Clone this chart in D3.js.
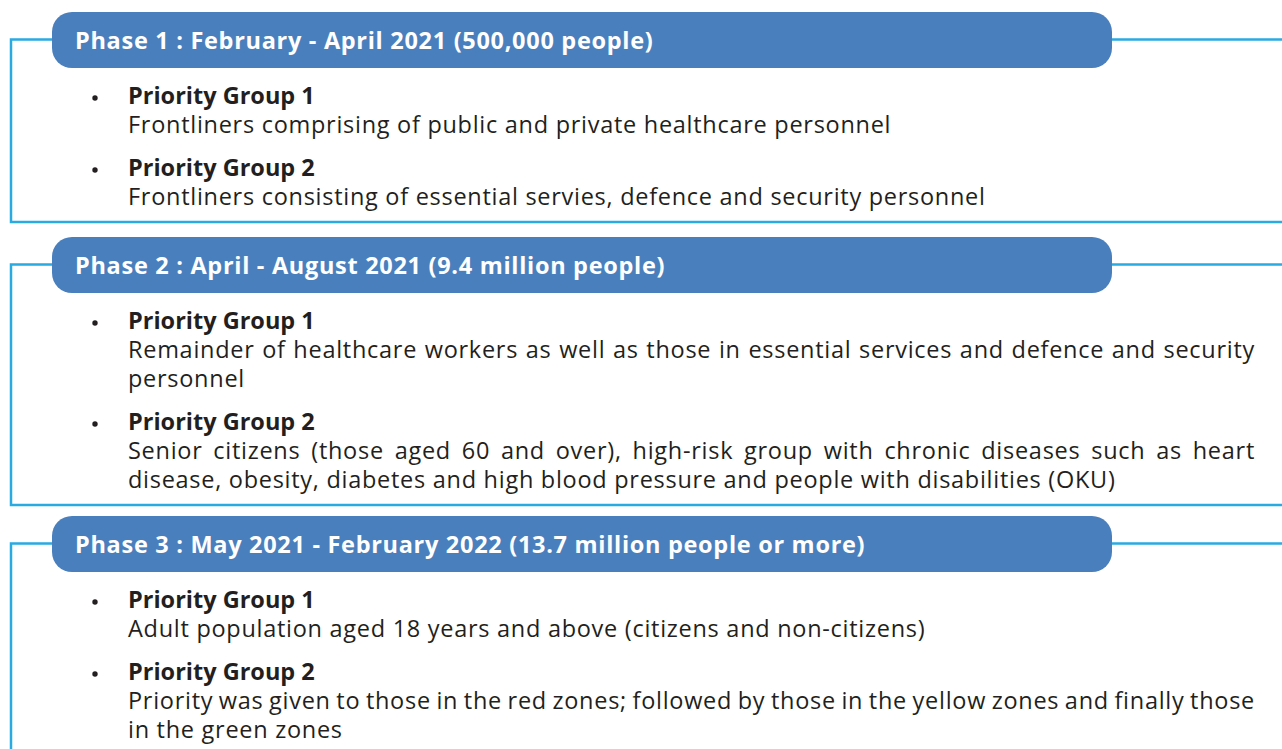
<!DOCTYPE html>
<html>
<head>
<meta charset="utf-8">
<script src="https://cdn.jsdelivr.net/npm/d3@7"></script>
<style>
  html, body { margin: 0; padding: 0; background: #fff; }
  svg { display: block; }
  text { font-family: "Open Sans", Lato, sans-serif; }
</style>
</head>
<body>
<svg id="viz"></svg>
<script>
const width = 1282;
const height = 749;

// phase headers
const phaseTitles = [
    "Phase 1 : February - April 2021 (500,000 people)",
    "Phase 2 : April - August 2021 (9.4 million people)",
    "Phase 3 : May 2021 - February 2022 (13.7 million people or more)"
];
// top of each header pill
const phaseTops = [12, 237, 516];

const groupLabels = ["Priority Group 1", "Priority Group 2"];

// description lines for each phase, group by group
const phase1Groups = [
    ["Frontliners comprising of public and private healthcare personnel"],
    ["Frontliners consisting of essential servies, defence and security personnel"]
];
const phase2Groups = [
    ["Remainder of healthcare workers as well as those in essential services and defence and security",
     "personnel"],
    ["Senior citizens (those aged 60 and over), high-risk group with chronic diseases such as heart",
     "disease, obesity, diabetes and high blood pressure and people with disabilities (OKU)"]
];
const phase3Groups = [
    ["Adult population aged 18 years and above (citizens and non-citizens)"],
    ["Priority was given to those in the red zones; followed by those in the yellow zones and finally those",
     "in the green zones"]
];
const phaseGroups = [phase1Groups, phase2Groups, phase3Groups];

const lineColor = "#29abe2";
const pillColor = "#4a7fbd";
const textColor = "#231f20";

const pillX = 52, pillW = 1060, pillH = 56;
const boxX = 11;
const textX = 128, bulletX = 95, textRight = 1255;
const lineH = 29, groupGap = 14;

const svg = d3.select("#viz").attr("width", width).attr("height", height);

phaseTitles.forEach(function (title, i) {
    const top = phaseTops[i];
    const g = svg.append("g").attr("class", "phase");
    const midY = top + pillH / 2 - 0.5;

    // work out rows first so the box can end below the last one
    const rows = [];
    let y = top + 83;
    phaseGroups[i].forEach(function (lines, gi) {
        if (gi > 0) y += groupGap;
        rows.push({ kind: "label", text: groupLabels[gi], y: y });
        y += lineH;
        lines.forEach(function (t, li) {
            rows.push({ kind: "desc", text: t, y: y, justify: li < lines.length - 1 });
            y += lineH;
        });
    });
    const lastY = rows[rows.length - 1].y;
    const bottom = i < phaseTitles.length - 1 ? lastY + 26 : height + 10;

    // frame
    const path = d3.path();
    path.moveTo(pillX, midY);
    path.lineTo(boxX, midY);
    path.lineTo(boxX, bottom);
    if (i < phaseTitles.length - 1) path.lineTo(width, bottom);
    g.append("path").attr("d", path.toString())
        .attr("fill", "none").attr("stroke", lineColor).attr("stroke-width", 2.5);
    g.append("line")
        .attr("x1", pillX + pillW - 5).attr("x2", width)
        .attr("y1", midY).attr("y2", midY)
        .attr("stroke", lineColor).attr("stroke-width", 2.5);

    // header pill
    g.append("rect")
        .attr("x", pillX).attr("y", top)
        .attr("width", pillW).attr("height", pillH)
        .attr("rx", 20).attr("ry", 20)
        .attr("fill", pillColor);
    g.append("text")
        .attr("x", 75).attr("y", top + 36.5)
        .attr("fill", "#fff")
        .attr("font-size", 23.5)
        .attr("font-weight", 700)
        .attr("letter-spacing", 0.7)
        .text(title);

    // bullets + texts
    g.selectAll("circle.bullet")
        .data(rows.filter(function (d) { return d.kind === "label"; }))
        .enter().append("circle")
        .attr("class", "bullet")
        .attr("cx", bulletX).attr("cy", function (d) { return d.y + 3; })
        .attr("r", 2.7).attr("fill", textColor);

    g.selectAll("text.row")
        .data(rows)
        .enter().append("text")
        .attr("class", "row")
        .attr("x", textX)
        .attr("y", function (d) { return d.y + 8.5; })
        .attr("fill", textColor)
        .attr("font-size", 23.5)
        .attr("font-weight", function (d) { return d.kind === "label" ? 700 : 400; })
        .attr("letter-spacing", d => d.kind === "label" ? 0 : 0.72)
        .text(function (d) { return d.text; })
        .each(function (d) {
            if (!d.justify) return;
            const len = this.getComputedTextLength();
            const gaps = d.text.split(" ").length - 1;
            const extra = (textRight - textX - len) / gaps;
            if (gaps > 0) d3.select(this).style("word-spacing", extra + "px");
        });
});
</script>
</body>
</html>
